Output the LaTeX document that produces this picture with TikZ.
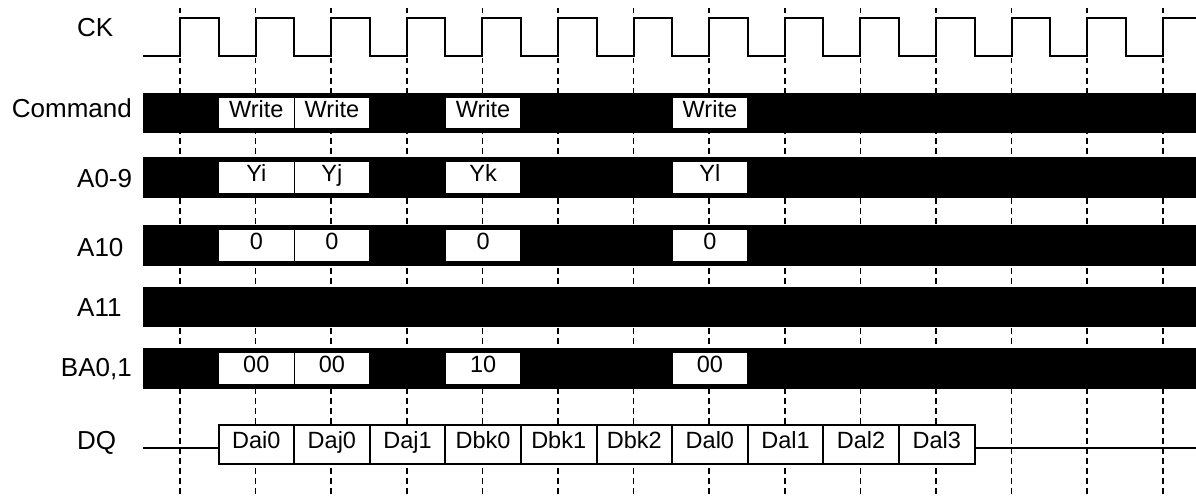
\documentclass[tikz,border=0pt]{standalone}
\usepackage{fontspec}
\setmainfont{Liberation Sans}
\begin{document}
\begin{tikzpicture}[x=1pt, y=-1pt,
		sig/.style={font=\fontsize{26}{26}\selectfont, inner sep=0pt},
		grid/.style={dash pattern=on 5.5pt off 4.5pt, line width=1.6pt},
		wave/.style={line width=2pt},
		slot/.style={draw, fill=white, line width=1.2pt, minimum width=75.6pt, minimum height=32pt,
			inner sep=0pt, text height=16.5pt, text depth=8.5pt, font=\fontsize{23.5}{23.5}\selectfont},
		cell/.style={slot, line width=2pt, minimum height=39pt}]
	\useasboundingbox (0,0) rectangle (1196,495);

	% clock grid
	\foreach \k in {0,...,13}
		\draw[grid] ({180+75.6*\k},8) -- ({180+75.6*\k},495);

	% signal names
	\node[sig, anchor=base west] (ck) at (77,37) {CK};
	\node[sig, anchor=base east] (cmd) at (132,117) {Command};
	\node[sig, anchor=base west] (a09) at (77,187) {A0-9};
	\node[sig, anchor=base west] (a10) at (77,256) {A10};
	\node[sig, anchor=base west] (a11) at (77,316) {A11};
	\node[sig, anchor=base east] (ba) at (132,376) {BA0,1};
	\node[sig, anchor=base west] (dq) at (77,449) {DQ};

	% clock
	\draw[wave] (143,56) \foreach \k in {0,...,12} {
			-- ({180+75.6*\k},56) -- ({180+75.6*\k},18) -- ({218.5+75.6*\k},18) -- ({218.5+75.6*\k},56)
		} -- (1162.8,56) -- (1162.8,18) -- (1196,18);

	% busses
	\foreach \top/\bot in {93/133, 157/198, 225/266, 287/327, 348/389}
		\fill (143,\top) rectangle (1196,\bot);

	\foreach \k/\txt in {0/Write, 1/Write, 3/Write, 6/Write}
		\node[slot] (cmd\k) at ({256.3+75.6*\k},113) {\txt};
	\foreach \k/\txt in {0/Yi, 1/Yj, 3/Yk, 6/Yl}
		\node[slot] (adr\k) at ({256.3+75.6*\k},177.5) {\txt};
	\foreach \k/\txt in {0/0, 1/0, 3/0, 6/0}
		\node[slot] (ap\k) at ({256.3+75.6*\k},245.5) {\txt};
	\foreach \k/\txt in {0/00, 1/00, 3/10, 6/00}
		\node[slot] (bank\k) at ({256.3+75.6*\k},368.5) {\txt};

	% data
	\foreach \k/\txt in {0/Dai0, 1/Daj0, 2/Daj1, 3/Dbk0, 4/Dbk1, 5/Dbk2, 6/Dal0, 7/Dal1, 8/Dal2, 9/Dal3}
		\node[cell] (d\k) at ({256.3+75.6*\k},444.5) {\txt};

	\coordinate (dqin) at (143,448);
	\coordinate (dqout) at (1196,448);
	\draw[wave] (dqin) -- (d0.west |- dqin);
	\draw[wave] (d9.east |- dqout) -- (dqout);
\end{tikzpicture}
\end{document}
